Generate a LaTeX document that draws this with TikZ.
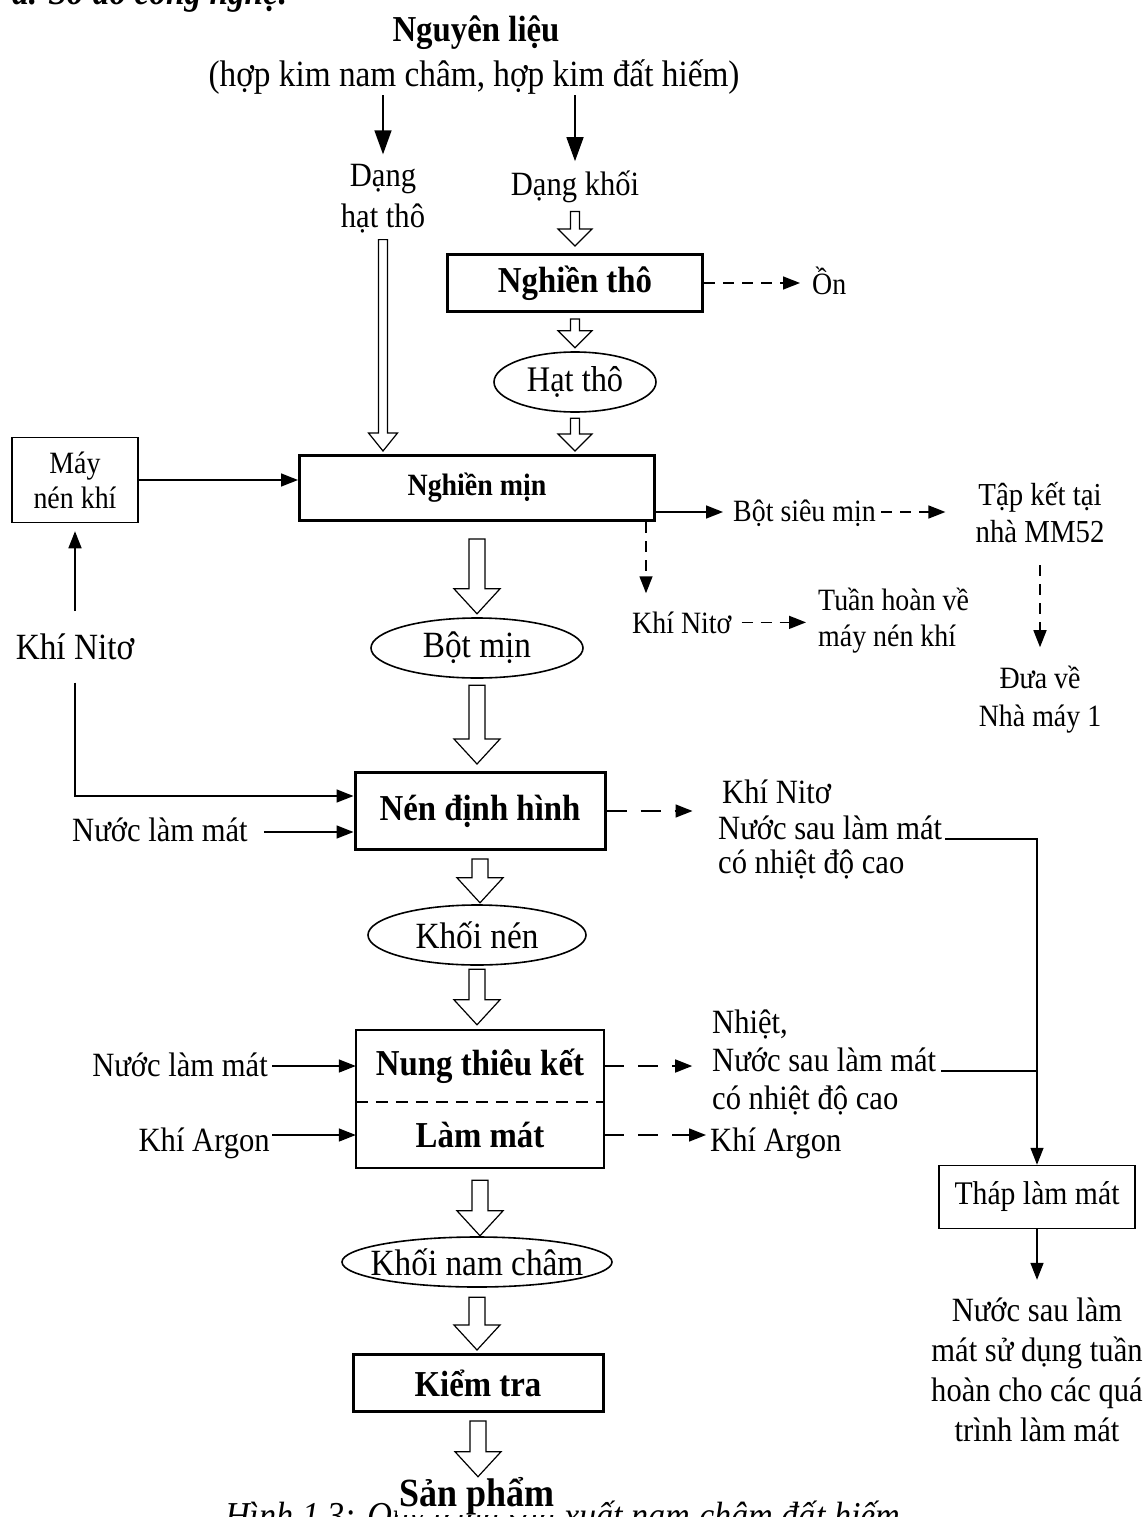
\documentclass[tikz,border=0pt]{standalone}
\usepackage{fontspec}
\setmainfont{Liberation Serif}[FakeStretch=0.9]
\usetikzlibrary{arrows.meta,calc}

% hollow block arrow pointing down: shaft half-width, head half-width, head length, from, to
\newcommand\fatarrow[5]{%
  \draw[outline] let \p1=(#4), \p2=(#5) in
    (\x1-#1,\y1) -- (\x1+#1,\y1) -- (\x1+#1,\y2+#3) -- (\x1+#2,\y2+#3)
    -- (\x1,\y2) -- (\x1-#2,\y2+#3) -- (\x1-#1,\y2+#3) -- cycle;}

\begin{document}
\begin{tikzpicture}[x=1pt,y=-1pt,
  every node/.style={inner sep=0pt, font=\fontsize{34}{38}\selectfont},
  tA/.style={font=\fontsize{34}{38}\selectfont},
  tS/.style={font=\fontsize{31}{36}\selectfont},
  tL/.style={font=\fontsize{37}{41}\selectfont},
  bL/.style={font=\fontsize{36.5}{40}\selectfont\bfseries},
  stage/.style={draw, line width=3pt, bL},
  plainbox/.style={draw, line width=1.5pt},
  oval/.style={line width=1.6pt},
  link/.style={line width=1.5pt, -{Triangle[length=17pt,width=13pt]}},
  feed/.style={line width=1.5pt, -{Triangle[length=24pt,width=17pt]}},
  leak/.style={link, dash pattern=on 11pt off 8pt},
  longleak/.style={link, dash pattern=on 20pt off 14pt},
  wire/.style={line width=1.5pt},
  outline/.style={draw, line width=1.2pt, fill=white, line join=miter}]

\useasboundingbox (0,0) rectangle (1144,1517);
\clip (0,0) rectangle (1144,1517);

% heading and raw material
\node[anchor=base west, font=\fontsize{37}{41}\selectfont\bfseries\itshape] (title) at (12,5) {a. Sơ đồ công nghệ:};
\node[anchor=base, bL] (nl) at (476,42) {Nguyên liệu};
\node[anchor=base, tL] (nl2) at (474,87) {(hợp kim nam châm, hợp kim đất hiếm)};
\node[align=center, font=\fontsize{34}{41}\selectfont] (dang1) at (383,199) {Dạng\\hạt thô};
\node[anchor=base, tA] (dangk) at (575,196) {Dạng khối};

% coarse milling
\node[stage, minimum width=255pt, minimum height=57pt] (nt) at (575,283) {Nghiền thô};
\node[anchor=base west, tS] (on) at (812,294) {Ồn};
\node[minimum width=162pt, minimum height=60pt, font=\fontsize{36}{40}\selectfont] (ht) at (575,382) {Hạt thô};

% fine milling
\node[stage, minimum width=355pt, minimum height=65pt, font=\fontsize{31}{36}\selectfont\bfseries] (nm) at (477,488) {Nghiền mịn};
\node[plainbox, minimum width=126pt, minimum height=85pt, align=center, font=\fontsize{31}{35}\selectfont] (may) at (75,480) {Máy\\nén khí};
\node[anchor=base west, tS] (bsm) at (733,521) {Bột siêu mịn};
\node[align=center, font=\fontsize{32}{37}\selectfont] (tk) at (1040,513) {Tập kết tại\\nhà MM52};
\node[anchor=base west, tS] (kn1) at (632,633) {Khí Nitơ};
\node[anchor=west, align=left, font=\fontsize{31}{36}\selectfont] (th) at (818,621) {Tuần hoàn về\\máy nén khí};
\node[align=center, font=\fontsize{31}{38}\selectfont] (dv) at (1040,700) {Đưa về\\Nhà máy 1};
\node[minimum width=213pt, minimum height=60pt, tL] (bm) at (477,648) {Bột mịn};
\node[anchor=base, tL] (knl) at (75,659) {Khí Nitơ};

% pressing
\node[stage, minimum width=250pt, minimum height=77pt] (nen) at (480,811) {Nén định hình};
\node[anchor=base west, tA] (nlm1) at (72,841) {Nước làm mát};
\node[anchor=base west, tA] (kn2) at (722,803) {Khí Nitơ};
\node[anchor=base west, tA] (nsl1) at (718,839) {Nước sau làm mát};
\node[anchor=base west, tA] (cnd1) at (718,873) {có nhiệt độ cao};
\node[minimum width=218pt, minimum height=60pt, tL] (kn) at (477,935) {Khối nén};

% sintering and cooling
\node[bL, minimum width=248pt, minimum height=72pt] (ntk) at (480,1066) {Nung thiêu kết};
\node[bL, minimum width=248pt, minimum height=66pt] (lm) at (480,1135) {Làm mát};
\draw[wire, line width=2pt] (ntk.north west) rectangle (lm.south east);
\draw[wire, dash pattern=on 12pt off 8pt] (ntk.south west) -- (ntk.south east);
\node[anchor=base east, tA] (nlm2) at (268,1076) {Nước làm mát};
\node[anchor=base east, tA] (ka) at (270,1151) {Khí Argon};
\node[anchor=base west, tA] (nh) at (712,1033) {Nhiệt,};
\node[anchor=base west, tA] (nsl2) at (712,1071) {Nước sau làm mát};
\node[anchor=base west, tA] (cnd2) at (712,1109) {có nhiệt độ cao};
\node[anchor=base west, tA] (ka2) at (710,1151) {Khí Argon};

% cooling tower
\node[plainbox, minimum width=196pt, minimum height=63pt, font=\fontsize{33}{38}\selectfont] (thap) at (1037,1197) {Tháp làm mát};
\node[align=center, font=\fontsize{34}{40}\selectfont] (fin) at (1037,1370) {Nước sau làm\\mát sử dụng tuần\\hoàn cho các quá\\trình làm mát};

% finishing
\node[minimum width=270pt, minimum height=50pt, tL] (knc) at (477,1262) {Khối nam châm};
\node[stage, minimum width=250pt, minimum height=57pt] (kt) at (478,1383) {Kiểm tra};
\node[anchor=base west, font=\fontsize{38}{42}\selectfont\itshape] (cap) at (225,1528) {Hình 1.3: Quy trình sản xuất nam châm đất hiếm};
\node[anchor=base, font=\fontsize{40}{44}\selectfont\bfseries, fill=white, inner xsep=2pt] (sp) at (477,1506) {Sản phẩm};

% intermediate products
\draw[oval] (ht.center) ellipse [x radius=81pt, y radius=30pt];
\draw[oval] (bm.center) ellipse [x radius=106pt, y radius=30pt];
\draw[oval] (kn.center) ellipse [x radius=109pt, y radius=30pt];
\draw[oval] (knc.center) ellipse [x radius=135pt, y radius=25pt];

% raw material feed
\draw[feed, shorten >=10pt] (nl2.south -| dang1.north) -- (dang1.north);
\draw[feed, shorten >=10pt] (nl2.south -| dangk.north) -- (dangk.north);

% block arrows of the main flow
\fatarrow{4.5pt}{17pt}{17pt}{$(dangk.south)+(0,8)$}{$(nt.north)+(0,-7)$}
\fatarrow{4.5pt}{17pt}{17pt}{$(nt.south)+(0,6)$}{$(ht.north)+(0,-4)$}
\fatarrow{4.5pt}{17pt}{17pt}{$(ht.south)+(0,6)$}{$(nm.north)+(0,-3)$}
\fatarrow{4.5pt}{14.5pt}{18pt}{$(dang1.south)+(0,6)$}{$(nm.north)+(0,-3)$}
\fatarrow{8pt}{23pt}{25pt}{$(nm.south)+(0,17)$}{$(bm.north)+(0,-4)$}
\fatarrow{8pt}{23pt}{25pt}{$(bm.south)+(0,7)$}{$(nen.north)+(0,-7)$}
\fatarrow{8pt}{23pt}{25pt}{$(nen.south)+(0,8)$}{$(kn.north)+(0,-2)$}
\fatarrow{8pt}{23pt}{25pt}{$(kn.south)+(0,4)$}{$(ntk.north)+(0,-5)$}
\fatarrow{8pt}{23pt}{25pt}{$(lm.south)+(0,12)$}{$(knc.north)+(0,-1)$}
\fatarrow{8pt}{23pt}{25pt}{$(knc.south)+(0,10)$}{$(kt.north)+(0,-3)$}
\fatarrow{8pt}{23pt}{25pt}{$(kt.south)+(0,8)$}{$(sp.north)+(0,0)$}

% coarse milling outputs
\draw[leak, shorten >=12pt] (nt.east) -- (nt.east -| on.west);

% compressor and fine milling outputs
\draw[link] (may.east) -- (may.east -| nm.west);
\coordinate (nmr) at ($(nm.south east)+(0,-10)$);
\draw[link, shorten >=10pt] (nmr) -- (nmr -| bsm.west);
\draw[leak, shorten <=5pt, shorten >=30pt] (nmr -| bsm.east) -- (nmr -| tk.west);
\coordinate (nmd) at ($(nm.south east)+(-10,0)$);
\draw[leak, shorten >=18pt] (nmd) -- (nmd |- kn1.north);
\draw[leak, shorten <=10pt, shorten >=12pt] (kn1.east) -- (kn1.east -| th.west);
\draw[leak, shorten <=22pt, shorten >=19pt] (tk.south) -- (dv.north);

% nitrogen loop and pressing inputs
\draw[link, shorten <=22pt, shorten >=8pt] (knl.north) -- (may.south);
\coordinate (nenin1) at ($(nen.north west)+(0,25)$);
\draw[link, shorten <=23pt] (knl.south) |- (nenin1);
\coordinate (nenin2) at ($(nen.south west)+(0,-19)$);
\draw[link, shorten <=16pt] (nlm1.east |- nenin2) -- (nenin2);

% pressing outputs
\coordinate (o1) at ($(nen.east)+(86,0)$);
\draw[longleak] (nen.east) -- (o1);
\draw[link, shorten <=3pt] (nsl1.base east) -| (thap.north);

% sintering inputs and outputs
\draw[link, shorten <=4pt] (nlm2.east |- ntk.west) -- (ntk.west);
\draw[link, shorten <=2pt] (ka.east |- lm.west) -- (lm.west);
\coordinate (o2) at ($(ntk.east)+(88,0)$);
\draw[longleak] (ntk.east) -- (o2);
\draw[longleak, shorten >=4pt] (lm.east) -- (lm.east -| ka2.west);
\draw[wire, shorten <=5pt] (nsl2.base east) -- (nsl2.base east -| thap.north);

% cooling tower output
\draw[link, shorten >=18pt] (thap.south) -- (thap.south |- fin.north);
\end{tikzpicture}
\end{document}
